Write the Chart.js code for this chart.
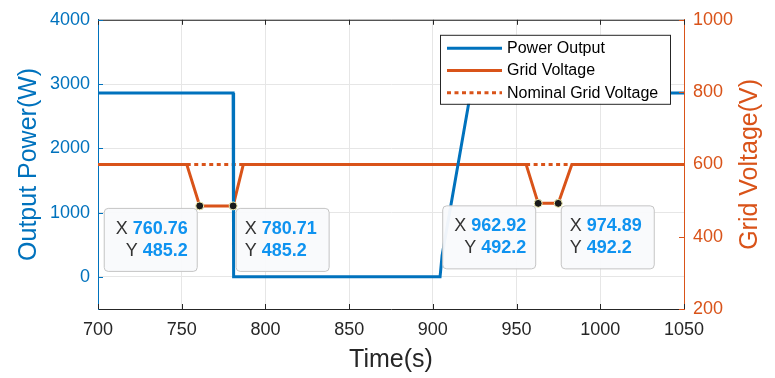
<!DOCTYPE html>
<html>
<head>
<meta charset="utf-8">
<script src="https://cdn.jsdelivr.net/npm/chart.js@4.4.1/dist/chart.umd.min.js"></script>
<style>
  html, body { margin: 0; padding: 0; background: #ffffff; }
  #wrap { width: 775px; height: 378px; position: relative; }
</style>
</head>
<body>
<div id="wrap"><canvas id="c" width="775" height="378"></canvas></div>
<script>
// ---------- data ----------
const xTicks = [700, 750, 800, 850, 900, 950, 1000, 1050];
const powerTicks = [0, 1000, 2000, 3000, 4000];
const voltTicks = [200, 400, 600, 800, 1000];

const powerTime = [700, 780.7, 781.0, 904.3, 905.5, 922.5, 1050];
const powerW    = [2860, 2860, 0, 0, 330, 2860, 2860];

const voltTime = [700, 753, 760.76, 780.71, 786.8, 955.7, 962.92, 974.89, 983, 1050];
const voltV    = [600, 600, 485.2, 485.2, 600, 600, 492.2, 492.2, 600, 600];

const nomTime = [753, 786.8, 870, 955.7, 983];
const nomV    = [600, 600, null, 600, 600];

const tipTime = [760.76, 780.71, 962.92, 974.89];
const tipV    = [485.2, 485.2, 492.2, 492.2];

const labels = ['Power Output', 'Grid Voltage', 'Nominal Grid Voltage'];
// ---------------------------

const BLUE = '#0072BD';
const ORANGE = '#D95319';
const FONT = "'Liberation Sans', Arial, Helvetica, sans-serif";
const TIPBLUE = '#0f93f0';

const pts = (xs, ys) => xs.map((x, i) => ({ x: x, y: ys[i] }));
const plain = v => String(v);

const overlay = {
  id: 'overlay',
  afterDatasetsDraw(chart) {
    const ctx = chart.ctx;
    const a = chart.chartArea;
    const sx = chart.scales.x, sl = chart.scales.yL, sr = chart.scales.yR;
    ctx.save();
    // top border
    ctx.strokeStyle = '#262626';
    ctx.lineWidth = 1;
    ctx.beginPath();
    ctx.moveTo(a.left, a.top + 0.5);
    ctx.lineTo(a.right, a.top + 0.5);
    ctx.stroke();
    // inward ticks
    const tl = 5;
    ctx.strokeStyle = '#262626';
    ctx.beginPath();
    xTicks.forEach(v => {
      const p = Math.round(sx.getPixelForValue(v)) + 0.5;
      ctx.moveTo(p, a.bottom); ctx.lineTo(p, a.bottom - tl);
      ctx.moveTo(p, a.top); ctx.lineTo(p, a.top + tl);
    });
    ctx.stroke();
    ctx.strokeStyle = BLUE;
    ctx.beginPath();
    powerTicks.forEach(v => {
      const p = Math.round(sl.getPixelForValue(v)) + 0.5;
      ctx.moveTo(a.left, p); ctx.lineTo(a.left + tl, p);
    });
    ctx.stroke();
    ctx.strokeStyle = ORANGE;
    ctx.beginPath();
    voltTicks.forEach(v => {
      const p = Math.round(sr.getPixelForValue(v)) + 0.5;
      ctx.moveTo(a.right, p); ctx.lineTo(a.right - tl, p);
    });
    ctx.stroke();

    // data tips
    const w = 93, h = 63;
    tipTime.forEach((t, i) => {
      const px = sx.getPixelForValue(t);
      const py = sr.getPixelForValue(tipV[i]);
      const leftSide = (i % 2 === 0);
      const bx = leftSide ? px - 3 - w : px + 2.5;
      const by = py + 2;
      ctx.beginPath();
      ctx.roundRect(bx + 0.5, by + 0.5, w, h, 4);
      ctx.fillStyle = 'rgba(249,250,252,0.96)';
      ctx.fill();
      ctx.strokeStyle = '#c4c4c4';
      ctx.lineWidth = 1;
      ctx.stroke();
      const rows = [['X', String(t)], ['Y', String(tipV[i])]];
      rows.forEach((r, k) => {
        const cy = by + 21 + k * 22;
        ctx.textBaseline = 'middle';
        ctx.font = 'bold 18px ' + FONT;
        const vw = ctx.measureText(r[1]).width;
        ctx.font = '18px ' + FONT;
        const lw = ctx.measureText(r[0] + ' ').width;
        let lx;
        if (leftSide) {
          lx = bx + w - 9 - vw - lw;
        } else {
          lx = bx + 9;
        }
        ctx.textAlign = 'left';
        ctx.fillStyle = '#333333';
        ctx.font = '18px ' + FONT;
        ctx.fillText(r[0], lx, cy);
        ctx.fillStyle = TIPBLUE;
        ctx.font = 'bold 18px ' + FONT;
        ctx.fillText(r[1], lx + lw, cy);
      });
    });
    // tip markers on top
    tipTime.forEach((t, i) => {
      const px = sx.getPixelForValue(t);
      const py = sr.getPixelForValue(tipV[i]);
      ctx.beginPath();
      ctx.arc(px, py, 4, 0, Math.PI * 2);
      ctx.fillStyle = '#1a1a1a';
      ctx.fill();
      ctx.strokeStyle = '#f2eeb0';
      ctx.lineWidth = 1;
      ctx.stroke();
    });

    // legend
    const lw0 = 230, lh0 = 69;
    const lx0 = a.right - 14 - lw0, ly0 = a.top + 15;
    ctx.fillStyle = '#ffffff';
    ctx.fillRect(lx0, ly0, lw0, lh0);
    ctx.strokeStyle = '#262626';
    ctx.lineWidth = 1;
    ctx.strokeRect(lx0 + 0.5, ly0 + 0.5, lw0, lh0);
    const ds = chart.data.datasets;
    for (let k = 0; k < 3; k++) {
      const d = ds[k];
      const cy = ly0 + 13.5 + k * 22.2;
      ctx.beginPath();
      ctx.strokeStyle = d.borderColor;
      ctx.lineWidth = d.borderWidth;
      ctx.setLineDash(d.borderDash || []);
      ctx.moveTo(lx0 + 7, cy);
      ctx.lineTo(lx0 + 62, cy);
      ctx.stroke();
      ctx.setLineDash([]);
      ctx.fillStyle = '#000000';
      ctx.font = '16px ' + FONT;
      ctx.textAlign = 'left';
      ctx.textBaseline = 'middle';
      ctx.fillText(d.label, lx0 + 67, cy + 0.5);
    }
    ctx.restore();
  },
  afterDraw(chart) {
    const ctx = chart.ctx;
    const a = chart.chartArea;
    const cy = (a.top + a.bottom) / 2;
    ctx.save();
    ctx.font = '25px ' + FONT;
    ctx.textAlign = 'center';
    ctx.textBaseline = 'middle';
    ctx.fillStyle = BLUE;
    ctx.translate(29, cy);
    ctx.rotate(-Math.PI / 2);
    ctx.fillText('Output Power(W)', 0, 0);
    ctx.restore();
    ctx.save();
    ctx.font = '25px ' + FONT;
    ctx.textAlign = 'center';
    ctx.textBaseline = 'middle';
    ctx.fillStyle = ORANGE;
    ctx.translate(750, cy);
    ctx.rotate(-Math.PI / 2);
    ctx.fillText('Grid Voltage(V)', 0, 0);
    ctx.restore();
    ctx.save();
    ctx.font = '25px ' + FONT;
    ctx.textAlign = 'center';
    ctx.textBaseline = 'middle';
    ctx.fillStyle = '#262626';
    ctx.fillText('Time(s)', (a.left + a.right) / 2, 360);
    ctx.restore();
  }
};

new Chart(document.getElementById('c'), {
  type: 'line',
  data: {
    datasets: [
      {
        label: labels[0], data: pts(powerTime, powerW), yAxisID: 'yL',
        borderColor: BLUE, borderWidth: 3, pointRadius: 0, order: 1, tension: 0
      },
      {
        label: labels[1], data: pts(voltTime, voltV), yAxisID: 'yR',
        borderColor: ORANGE, borderWidth: 3, pointRadius: 0, order: 2, tension: 0
      },
      {
        label: labels[2], data: pts(nomTime, nomV), yAxisID: 'yR',
        borderColor: ORANGE, borderWidth: 3, borderDash: [4, 3.5], pointRadius: 0,
        order: 3, spanGaps: false, tension: 0
      }
    ]
  },
  options: {
    responsive: false,
    animation: false,
    events: [],
    layout: { padding: { top: 17, left: 0, right: 0, bottom: 0 } },
    plugins: { legend: { display: false }, tooltip: { enabled: false }, title: { display: false } },
    scales: {
      x: {
        type: 'linear', position: 'bottom', min: 700, max: 1050,
        afterBuildTicks: s => { s.ticks = xTicks.map(v => ({ value: v })); },
        afterFit: s => { s.height = 69; },
        grid: { color: '#e6e6e6', drawTicks: false, lineWidth: 1 },
        border: { color: '#262626', width: 1 },
        ticks: { color: '#262626', font: { family: FONT, size: 18 }, padding: 10, maxRotation: 0, callback: plain }
      },
      yL: {
        type: 'linear', position: 'left', min: -500, max: 4000,
        afterBuildTicks: s => { s.ticks = powerTicks.map(v => ({ value: v })); },
        afterFit: s => { s.width = 98; },
        grid: { color: '#e6e6e6', drawTicks: false, lineWidth: 1 },
        border: { color: BLUE, width: 1 },
        ticks: { color: BLUE, font: { family: FONT, size: 18 }, padding: 8, callback: plain }
      },
      yR: {
        type: 'linear', position: 'right', min: 200, max: 1000,
        afterBuildTicks: s => { s.ticks = voltTicks.map(v => ({ value: v })); },
        afterFit: s => { s.width = 91; },
        grid: { display: false, drawTicks: false },
        border: { color: ORANGE, width: 1 },
        ticks: { color: ORANGE, font: { family: FONT, size: 18 }, padding: 9, callback: plain }
      }
    }
  },
  plugins: [overlay]
});
</script>
</body>
</html>
